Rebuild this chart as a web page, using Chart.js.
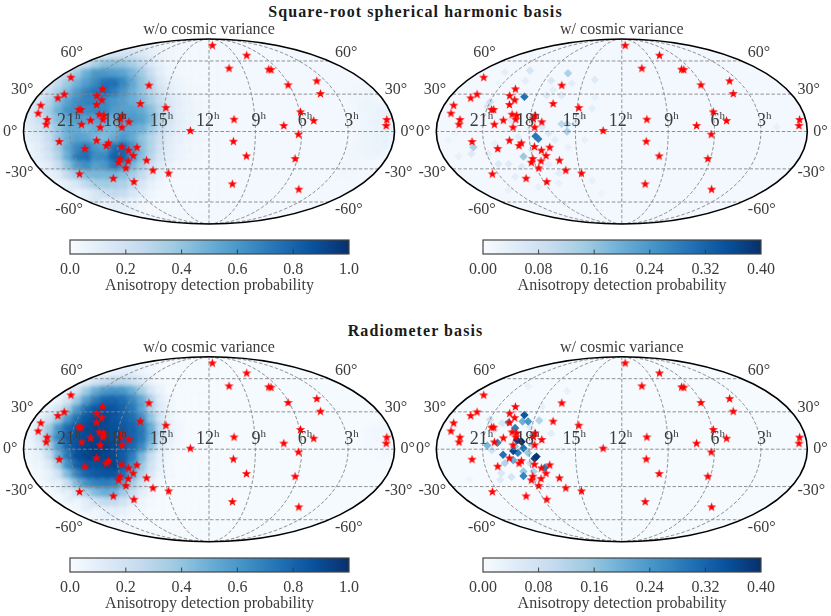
<!DOCTYPE html>
<html>
<head>
<meta charset="utf-8">
<title>Anisotropy detection probability</title>
<script src="https://cdn.jsdelivr.net/npm/chart.js@4"></script>
<style>
  html, body { margin: 0; padding: 0; background: #fff; }
  body { position: relative; width: 831px; height: 616px; overflow: hidden; }
  canvas { position: absolute; }
  h2 {
    position: absolute; left: 0; width: 831px; margin: 0; text-align: center;
    font: bold 16px "Liberation Serif", serif; letter-spacing: 1.07px; color: #1a1a1a;
  }
</style>
</head>
<body>
<h2 style="top:3px">Square-root spherical harmonic basis</h2>
<h2 style="top:322px">Radiometer basis</h2>
<canvas id="mapA" width="418" height="215"></canvas>
<canvas id="mapB" width="418" height="215"></canvas>
<canvas id="mapC" width="418" height="215"></canvas>
<canvas id="mapD" width="418" height="215"></canvas>
<canvas id="barA" width="339" height="57"></canvas>
<canvas id="barB" width="338" height="57"></canvas>
<canvas id="barC" width="339" height="57"></canvas>
<canvas id="barD" width="338" height="57"></canvas>
<script>
// sky map coordinates: x runs -200..200, y runs -100..100
const starX = [3.6, 40.6, 21.6, 64.4, 66.9, 85.3, 116.2, 120.1, 98.6, 112.9, 80.6, 96.4, 92.8, 96.8, 27.0, 26.3, 40.3, 25.2, -20.1, -43.5, -46.4, -64.7, -74.1, -60.4, -67.3, -77.7, -81.7, -87.1, -86.7, -94.2, -89.6, -80.9, -103.2, -96.0, -97.5, -108.3, -110.8, -121.2, -133.8, -161.5, -139.6, -137.4, -127.7, -117.3, -93.9, -86.3, -93.5, -95.3, -113.3, -118.3, -114.4, -140.3, -138.1, -121.2, -115.5, -120.9, -114.7, -156.1, -162.9, -148.9, -181.3, -184.2, -174.5, -175.5, 191.7, 191.0];
const starY = [93.3, 82.5, 68.5, 67.4, 67.0, 50.5, 54.8, 41.1, 21.3, 11.9, 6.5, -2.9, -29.2, -62.3, 13.3, -10.5, -26.3, -56.6, 1.1, -45.0, 25.9, 50.1, 30.3, -41.8, -31.0, -16.9, -25.9, -31.7, -20.2, -16.2, -39.3, -54.1, -50.5, -29.2, -33.2, -12.3, -15.1, -9.4, -18.4, -10.8, -45.8, 7.9, 12.3, 4.7, 4.7, 10.5, 17.7, 13.7, 17.7, 18.7, 13.3, 23.8, 23.8, 29.2, 34.2, 38.9, 46.1, 40.4, 36.4, 58.7, 28.5, 19.8, 13.0, 7.9, 13.0, 6.5];

// probability (percent) on a coarse grid over the left half of the map
const gridX = [-190, -180, -170, -160, -150, -140, -130, -120, -110, -100, -90, -80, -70, -60, -50, -40, -30, -20, -10, 0];
const gridY = [90, 80, 70, 60, 50, 40, 30, 20, 10, 0, -10, -20, -30, -40, -50, -60, -70, -80];

const sphRows = [
  [0,0,0,0,0,0,0,0,0,0,6,8,7,5,4,3,3,3,2,2],
  [0,0,0,0,0,0,0,8,12,18,20,20,15,10,6,4,3,2,2,2],
  [0,0,0,0,0,12,22,34,42,42,40,34,26,14,8,4,3,2,2,2],
  [0,0,0,12,25,38,50,60,60,58,55,46,36,22,10,5,3,2,2,2],
  [0,0,14,26,38,48,58,66,75,75,66,52,40,28,14,8,5,3,2,2],
  [0,12,22,34,46,58,68,74,76,70,60,50,40,30,18,10,6,4,3,2],
  [12,18,30,44,56,64,68,68,64,60,56,50,44,34,24,14,9,6,4,3],
  [14,24,36,50,62,66,64,66,66,58,56,56,52,42,28,16,9,6,4,3],
  [14,22,34,44,54,58,56,56,56,50,58,60,56,46,30,17,10,6,4,3],
  [12,18,28,40,50,52,46,50,46,46,54,52,48,38,26,15,9,6,4,3],
  [10,14,24,40,50,56,54,46,44,52,60,52,40,30,20,12,8,5,4,3],
  [6,12,22,36,54,66,72,60,56,76,78,60,42,30,18,10,6,4,3,2],
  [6,10,18,32,52,72,76,64,66,82,80,60,42,28,16,9,6,4,3,2],
  [0,6,12,24,42,58,64,56,60,72,64,46,34,20,12,6,4,3,2,2],
  [0,0,6,12,26,36,44,46,46,46,42,34,24,14,7,3,2,2,2,2],
  [0,0,0,5,10,16,26,34,36,34,32,24,16,8,4,2,2,2,2,2],
  [0,0,0,0,0,5,10,16,22,26,24,16,10,5,2,2,2,2,2,2],
  [0,0,0,0,0,0,0,0,6,10,10,6,4,2,2,2,2,2,2,2]
];
const radRows = [
  [0,0,0,0,0,0,0,0,0,0,2,3,3,2,1,1,1,1,1,1],
  [0,0,0,0,0,0,0,0,4,8,10,10,6,3,1,1,1,1,1,1],
  [0,0,0,0,0,4,10,18,25,28,28,22,14,6,2,1,1,1,1,1],
  [0,0,0,0,8,18,38,52,60,62,60,50,34,16,6,1,1,1,1,1],
  [0,0,0,6,18,38,58,72,80,80,76,66,52,30,10,3,1,1,1,1],
  [0,0,8,18,36,60,78,86,88,86,80,72,54,30,12,4,1,1,1,1],
  [0,10,20,38,60,76,86,90,90,86,82,76,64,40,16,6,2,1,1,1],
  [6,18,38,62,78,86,90,92,90,88,84,80,72,50,24,8,3,1,1,1],
  [6,20,44,68,82,88,90,92,90,88,84,80,72,50,24,8,3,1,1,1],
  [5,14,34,60,80,88,92,95,95,90,84,78,65,40,16,6,2,1,1,1],
  [4,8,24,50,74,88,92,95,92,90,82,70,45,22,8,3,1,1,1,1],
  [0,5,14,36,64,82,88,88,90,92,82,62,38,18,7,2,1,1,1,1],
  [0,3,8,20,46,68,80,84,86,86,75,50,30,14,5,2,1,1,1,1],
  [0,0,0,8,24,46,62,68,70,68,54,34,18,7,2,1,1,1,1,1],
  [0,0,0,0,8,20,32,44,50,48,36,22,10,4,1,1,1,1,1,1],
  [0,0,0,0,0,4,10,18,25,25,18,10,5,2,1,1,1,1,1,1],
  [0,0,0,0,0,0,0,4,8,10,8,4,2,1,1,1,1,1,1,1],
  [0,0,0,0,0,0,0,0,0,3,3,2,1,1,1,1,1,1,1,1]
];

// faint patches at the right rim of the two left maps
const sphRimX = [190, 180, 170, 190, 180, 170, 190, 180, 170, 160, 190, 180, 170, 160, 180, 170, 160, 170, 160, 150];
const sphRimY = [20, 20, 30, 10, 10, 20, 0, 0, 0, 10, -10, -10, -10, -20, -20, -20, -30, 40, 40, -40];
const sphRimP = [7, 6, 5, 8, 6, 5, 8, 6, 5, 4, 7, 6, 5, 4, 6, 5, 4, 5, 4, 4];
const radRimX = [190, 180, 190, 180, 170, 190, 180];
const radRimY = [20, 20, 10, 10, 10, 0, 0];
const radRimP = [4, 3, 4, 3, 2, 3, 2];

// isolated cells of the with-cosmic-variance maps, probability in percent
const sphCvX = [-105, -93, -90, -58, -160, -106, -65, -59, -59, -99, -126, -142, -145, -115, -76, -81, -29, -54, -65, -74, -29, -32, -43, -50, -79, -72, -86, -99, -112, -162, -176, -133, -122, -108, -79, -68, -115, -68, -90, -122, -32, -22, 167, -187, -180, -61, -133, -104, -119, -137, -144, -97, -58, -40];
const sphCvY = [37.5, -5, -8, 63, -17, -27, 8, 8, 0, 66, 64, 32, 27, 34, 55, 39, 56, 52, 39, 45, 37, 25, 16, 9, -2, -9, 5, 3, -6, -24, -27, -35, -35, -38, -36, -45, -49, -56, -60, -63, -53, -67, 5, -9, -2, -78, 52, 55, 12, -13, -24, -20, -17, -9];
const sphCvP = [30, 29, 28, 13, 13, 15, 11, 12, 13, 7, 4, 8, 6, 8, 6, 5, 5, 4, 5, 4, 3, 4, 5, 5, 5, 4, 5, 4, 4, 5, 3, 6, 5, 5, 4, 4, 4, 3, 3, 3, 3, 2.5, 3, 2, 2, 2, 2, 4, 5, 3, 4, 5, 3, 3];

const radCvX = [-105, -108, -113, -115, -122, -107, -101, -89, -134, -145, -128, -117, -112, -106, -101, -92, -94, -117, -126, -99, -83, -106, -106, -95, -97, -115, -94, -119, -130, -99, -129, -142, -137, -140, -101, -59, -86, -76, -65, -79, -131, -164];
const radCvY = [37, 8, 10, 23, 29, 30, 30, 31, 7, 4, -6, -2, -4, 1, -4, -8, -10, -12, -15, -15, -20, -29, -24, -24, 5, 3, -33, -30, -26, 24, 28, 32, 21, -1, 68, 63, 46, 17, -1, -40, -33, -33];
const radCvP = [34, 40, 38, 28, 22, 20, 24, 12, 26, 18, 30, 36, 28, 30, 15, 39, 37, 20, 12, 8, 28, 27, 15, 12, 12, 15, 8, 7, 6, 5, 6, 8, 5, 8, 3, 3, 3, 4, 2, 3, 5, 2];

const hourTicks = [21, 18, 15, 12, 9, 6, 3];
const decTicks = [60, 30, 0, -30, -60];
const meridians = [3, 6, 9, 12, 15, 18, 21];

const probTicks = [0, 0.2, 0.4, 0.6, 0.8, 1.0];
const cvTicks = [0, 0.08, 0.16, 0.24, 0.32, 0.40];

const blues = ['#f7fbff', '#deebf7', '#c6dbef', '#9ecae1', '#6baed6', '#4292c6', '#2171b5', '#08519c', '#08306b'];
const SERIF = '"Liberation Serif", serif';
const TEXT = '#3c3c3c';

function blue(t) {
  const pos = Math.max(0, Math.min(1, t)) * (blues.length - 1);
  const i = Math.min(Math.floor(pos), blues.length - 2);
  const a = parseInt(blues[i].slice(1), 16), b = parseInt(blues[i + 1].slice(1), 16);
  const f = pos - i;
  const mix = s => Math.round(((a >> s) & 255) * (1 - f) + ((b >> s) & 255) * f);
  return 'rgb(' + mix(16) + ',' + mix(8) + ',' + mix(0) + ')';
}

// Mollweide auxiliary angle for a latitude in degrees
function theta(dec) {
  const phi = dec * Math.PI / 180;
  if (Math.abs(dec) === 90) return phi;
  let t = phi;
  for (let i = 0; i < 30; i++) t -= (2 * t + Math.sin(2 * t) - Math.PI * Math.sin(phi)) / (2 + 2 * Math.cos(2 * t));
  return t;
}
function project(hours, dec) {
  const t = theta(dec);
  return { x: (12 - hours) / 12 * 200 * Math.cos(t), y: 100 * Math.sin(t) };
}

function starImage() {
  const c = document.createElement('canvas');
  c.width = c.height = 11;
  const g = c.getContext('2d');
  g.fillStyle = '#ff0000';
  g.beginPath();
  for (let i = 0; i < 10; i++) {
    const r = i % 2 ? 2.0 : 4.8;
    const a = -Math.PI / 2 + i * Math.PI / 5;
    g.lineTo(5.5 + r * Math.cos(a), 5.8 + r * Math.sin(a));
  }
  g.closePath();
  g.fill();
  return c;
}
const star = starImage();

const skyFrame = {
  id: 'skyFrame',
  beforeDatasetsDraw(chart, args, opts) {
    const a = chart.chartArea, ctx = chart.ctx;
    ctx.save();
    ctx.beginPath();
    ctx.ellipse((a.left + a.right) / 2, (a.top + a.bottom) / 2, a.width / 2, a.height / 2, 0, 0, Math.PI * 2);
    ctx.fillStyle = opts.background;
    ctx.fill();
    ctx.clip();
  },
  // soften the coarse probability cells only
  beforeDatasetDraw(chart, args, opts) {
    if (args.index === 0 && opts.soften) chart.ctx.filter = 'blur(' + opts.soften + 'px)';
  },
  afterDatasetDraw(chart) {
    chart.ctx.filter = 'none';
  },
  afterDatasetsDraw(chart, args, opts) {
    const a = chart.chartArea, ctx = chart.ctx, xs = chart.scales.x, ys = chart.scales.y;
    ctx.restore();
    ctx.beginPath();
    ctx.ellipse((a.left + a.right) / 2, (a.top + a.bottom) / 2, a.width / 2, a.height / 2, 0, 0, Math.PI * 2);
    ctx.lineWidth = 1.6;
    ctx.strokeStyle = '#000';
    ctx.stroke();

    ctx.fillStyle = TEXT;
    ctx.textBaseline = 'middle';
    ctx.font = '16px ' + SERIF;
    ctx.textAlign = 'center';
    ctx.fillText(opts.subtitle, (a.left + a.right) / 2, a.top - 9);

    hourTicks.forEach(h => {
      const p = project(h, 0);
      const x = xs.getPixelForValue(p.x), y = ys.getPixelForValue(0) - 10;
      ctx.font = '18px ' + SERIF;
      ctx.textAlign = 'right';
      ctx.fillText(String(h), x + 5, y);
      ctx.font = '11px ' + SERIF;
      ctx.textAlign = 'left';
      ctx.fillText('h', x + 5, y - 5);
    });
    ctx.font = '16px ' + SERIF;
    decTicks.forEach(d => {
      const p = project(0, d);
      const edge = Math.abs(xs.getPixelForValue(p.x) - xs.getPixelForValue(0));
      const mid = xs.getPixelForValue(0);
      const y = ys.getPixelForValue(p.y) - d / 7.5;
      ctx.textAlign = 'right';
      ctx.fillText(d + '°', mid - edge - 6, y);
      ctx.textAlign = 'left';
      ctx.fillText(d + '°', mid + edge + 6, y);
    });
  }
};

function gridCells(rows, rimX, rimY, rimP) {
  const cells = [];
  rows.forEach((row, j) => row.forEach((v, i) => {
    if (v > 0) cells.push({ x: gridX[i], y: gridY[j], v: v / 100 });
  }));
  rimX.forEach((x, i) => cells.push({ x: x, y: rimY[i], v: rimP[i] / 100 }));
  return cells;
}
function listCells(xs, ys, ps) {
  // weak cells first so strong ones stay on top
  return xs.map((x, i) => ({ x: x, y: ys[i], v: ps[i] / 100 })).sort((a, b) => a.v - b.v);
}

function graticule() {
  const lines = [];
  const lats = [];
  for (let d = -90; d <= 90; d += 3) lats.push(d);
  meridians.forEach(h => lines.push(lats.map(d => project(h, d))));
  decTicks.forEach(d => {
    const p = project(0, d);
    lines.push([{ x: p.x, y: p.y }, { x: -p.x, y: p.y }]);
  });
  return lines.map(pts => ({
    data: pts, showLine: true, pointRadius: 0, borderColor: '#858585',
    borderWidth: 0.9, borderDash: [3.5, 2], tension: 0, order: 2
  }));
}

function skyMap(id, left, top, pad, subtitle, cells, vmax, shape, radius, background, soften) {
  const el = document.getElementById(id);
  el.style.left = left + 'px';
  el.style.top = top + 'px';
  new Chart(el, {
    type: 'scatter',
    data: {
      datasets: [
        {
          data: cells,
          pointStyle: shape,
          pointRadius: radius,
          borderWidth: 0,
          backgroundColor: cells.map(c => blue(c.v / vmax)),
          order: 3
        },
        ...graticule(),
        {
          data: starX.map((x, i) => ({ x: x, y: starY[i] })),
          pointStyle: star,
          order: 1
        }
      ]
    },
    options: {
      responsive: false,
      animation: false,
      events: [],
      layout: { padding: pad },
      plugins: {
        legend: { display: false },
        tooltip: { enabled: false },
        skyFrame: { subtitle: subtitle, background: background, soften: soften }
      },
      scales: {
        x: { type: 'linear', min: -200, max: 200, display: false },
        y: { type: 'linear', min: -100, max: 100, display: false }
      }
    },
    plugins: [skyFrame]
  });
}

const barFrame = {
  id: 'barFrame',
  afterDraw(chart) {
    const a = chart.chartArea, ctx = chart.ctx, xs = chart.scales.x;
    ctx.save();
    ctx.strokeStyle = '#333';
    ctx.lineWidth = 0.9;
    ctx.beginPath();
    xs.ticks.slice(1, -1).forEach(t => {
      const x = xs.getPixelForValue(t.value);
      ctx.moveTo(x, a.bottom);
      ctx.lineTo(x, a.bottom - 4.5);
    });
    ctx.stroke();
    ctx.lineWidth = 1.2;
    ctx.strokeStyle = '#444';
    ctx.strokeRect(a.left, a.top, a.width, a.height);
    ctx.restore();
  }
};

function colorBar(id, left, top, ticks, digits) {
  const el = document.getElementById(id);
  el.style.left = left + 'px';
  el.style.top = top + 'px';
  const max = ticks[ticks.length - 1];
  new Chart(el, {
    type: 'bar',
    data: {
      labels: [''],
      datasets: [{
        data: [[0, max]],
        barPercentage: 1,
        categoryPercentage: 1,
        backgroundColor(ctx) {
          const a = ctx.chart.chartArea;
          if (!a) return blues[4];
          const g = ctx.chart.ctx.createLinearGradient(a.left, 0, a.right, 0);
          blues.forEach((c, i) => g.addColorStop(i / (blues.length - 1), c));
          return g;
        }
      }]
    },
    options: {
      indexAxis: 'y',
      responsive: false,
      animation: false,
      events: [],
      layout: { padding: { left: 30, right: 30, top: 2, bottom: 0 } },
      plugins: { legend: { display: false }, tooltip: { enabled: false } },
      scales: {
        y: { display: false },
        x: {
          type: 'linear',
          min: 0,
          max: max,
          grid: { display: false, drawTicks: false },
          border: { display: false },
          afterBuildTicks(s) { s.ticks = ticks.map(v => ({ value: v })); },
          afterFit(s) { s.paddingLeft = 0; s.paddingRight = 0; s.height = 41; },
          ticks: {
            color: TEXT,
            padding: 6,
            maxRotation: 0,
            autoSkip: false,
            font: { family: SERIF, size: 16 },
            callback: v => v.toFixed(digits)
          },
          title: {
            display: true,
            text: 'Anisotropy detection probability',
            color: TEXT,
            padding: { top: 0, bottom: 0 },
            font: { family: SERIF, size: 16 }
          }
        }
      }
    },
    plugins: [barFrame]
  });
}

const padA = { left: 23.5, right: 23.5, top: 19, bottom: 11 };
const padB = { left: 23.3, right: 23.7, top: 19, bottom: 11 };
const padC = { left: 23.5, right: 23.5, top: 18.7, bottom: 11.3 };
const padD = { left: 23.3, right: 23.7, top: 18.7, bottom: 11.3 };

skyMap('mapA', 0, 20, padA, 'w/o cosmic variance', gridCells(sphRows, sphRimX, sphRimY, sphRimP), 1, 'rect', 9.9, blue(0.025), 2);
skyMap('mapB', 413, 20, padB, 'w/ cosmic variance', listCells(sphCvX, sphCvY, sphCvP), 0.4, 'rectRot', 4.2, blue(0.02), 0.5);
skyMap('mapC', 0, 338, padC, 'w/o cosmic variance', gridCells(radRows, radRimX, radRimY, radRimP), 1, 'rect', 9.9, blue(0.01), 2);
skyMap('mapD', 413, 338, padD, 'w/ cosmic variance', listCells(radCvX, radCvY, radCvP), 0.4, 'rectRot', 4.2, blue(0.01), 0.5);

colorBar('barA', 40, 238, probTicks, 1);
colorBar('barB', 453, 238, cvTicks, 2);
colorBar('barC', 40, 555.5, probTicks, 1);
colorBar('barD', 453, 555.5, cvTicks, 2);
</script>
</body>
</html>
